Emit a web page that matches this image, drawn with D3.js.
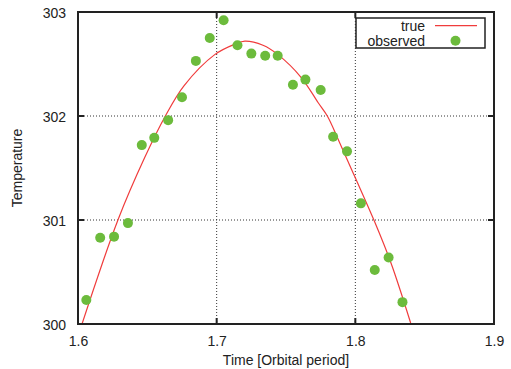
<!DOCTYPE html>
<html>
<head>
<meta charset="utf-8">
<script src="https://cdn.jsdelivr.net/npm/d3@7"></script>
<style>
  html, body { margin: 0; padding: 0; background: #fff; }
  text { font-family: "Liberation Sans", Arial, sans-serif; fill: #222; }
</style>
</head>
<body>
<div id="chart-container"></div>
<script>
// Observed points (time in orbital periods, temperature)
const obsTime = [1.606, 1.616, 1.626, 1.636, 1.646, 1.655, 1.665, 1.675, 1.685, 1.695, 1.705, 1.715,
                 1.725, 1.735, 1.744, 1.755, 1.764, 1.775, 1.784, 1.794, 1.804, 1.814, 1.824, 1.834];
const obsTemp = [300.23, 300.83, 300.84, 300.97, 301.72, 301.79, 301.96, 302.18, 302.53, 302.75, 302.92, 302.68,
                 302.60, 302.58, 302.58, 302.30, 302.35, 302.25, 301.80, 301.66, 301.16, 300.52, 300.64, 300.21];

// "true" curve
const trueTime = [1.6029, 1.6288, 1.6481, 1.6630, 1.6764, 1.6986, 1.7130, 1.7204,
                  1.7334, 1.7442, 1.7610, 1.7731, 1.7798, 1.7875, 1.7995, 1.8140, 1.8259, 1.8399];
const trueTemp = [300.00, 301.00, 301.60, 302.00, 302.29, 302.59, 302.69, 302.72,
                  302.68, 302.59, 302.37, 302.13, 302.00, 301.78, 301.42, 300.98, 300.58, 300.01];

const xTicks = [1.6, 1.7, 1.8, 1.9];
const yTicks = [300, 301, 302, 303];
const legendLabels = ["true", "observed"];

const W = 511, H = 369;
const plotL = 78, plotR = 494, plotT = 12, plotB = 324;

const svg = d3.select("#chart-container")
  .append("svg")
  .attr("width", W)
  .attr("height", H);

const xScale = d3.scaleLinear().domain([1.6, 1.9]).range([plotL, plotR]);
const yScale = d3.scaleLinear().domain([300, 303]).range([plotB, plotT]);

// Dotted grid lines
const grid = svg.append("g").attr("class", "grid");
grid.selectAll("line.gx")
  .data(xTicks.slice(1, -1))
  .enter().append("line")
  .attr("x1", d => xScale(d)).attr("x2", d => xScale(d))
  .attr("y1", plotT).attr("y2", plotB)
  .attr("stroke", "#333").attr("stroke-width", 1).attr("stroke-dasharray", "1,2");
grid.selectAll("line.gy")
  .data(yTicks.slice(1, -1))
  .enter().append("line")
  .attr("x1", plotL).attr("x2", plotR)
  .attr("y1", d => yScale(d)).attr("y2", d => yScale(d))
  .attr("stroke", "#333").attr("stroke-width", 1).attr("stroke-dasharray", "1,2");

// Clip region for the data
svg.append("clipPath").attr("id", "plot-clip")
  .append("rect")
  .attr("x", plotL).attr("y", plotT)
  .attr("width", plotR - plotL).attr("height", plotB - plotT);

// True curve
const trueData = trueTime.map((t, i) => ({ x: t, y: trueTemp[i] }));
const line = d3.line()
  .x(d => xScale(d.x))
  .y(d => yScale(d.y))
  .curve(d3.curveCatmullRom.alpha(0.5));

svg.append("path")
  .datum(trueData)
  .attr("clip-path", "url(#plot-clip)")
  .attr("d", line)
  .attr("fill", "none")
  .attr("stroke", "#f03c3c")
  .attr("stroke-width", 1.2);

// Observed points
const green = "#6cbb3c";
svg.append("g")
  .selectAll("circle")
  .data(obsTime.map((t, i) => ({ x: t, y: obsTemp[i] })))
  .enter().append("circle")
  .attr("cx", d => xScale(d.x))
  .attr("cy", d => yScale(d.y))
  .attr("r", 5)
  .attr("fill", green);

// Axes: labels outside, short ticks inside (mirrored on top/right)
const xAxis = d3.axisBottom(xScale).tickValues(xTicks).tickSize(0).tickPadding(12)
  .tickFormat(d3.format(".1f"));
const yAxis = d3.axisLeft(yScale).tickValues(yTicks).tickSize(0).tickPadding(12)
  .tickFormat(d3.format("d"));

const gx = svg.append("g").attr("transform", `translate(0,${plotB})`).call(xAxis);
const gy = svg.append("g").attr("transform", `translate(${plotL},0)`).call(yAxis);
[gx, gy].forEach(g => {
  g.select(".domain").remove();
  g.selectAll("text")
    .attr("font-size", "14px")
    .attr("font-family", "'Liberation Sans', Arial, sans-serif")
    .attr("fill", "#222");
});
gy.selectAll("text").attr("dy", "0.36em");

const ticks = svg.append("g").attr("stroke", "#222").attr("stroke-width", 2);
xTicks.slice(1, -1).forEach(t => {
  ticks.append("line").attr("x1", xScale(t)).attr("x2", xScale(t)).attr("y1", plotB).attr("y2", plotB - 6);
  ticks.append("line").attr("x1", xScale(t)).attr("x2", xScale(t)).attr("y1", plotT).attr("y2", plotT + 6);
});
yTicks.slice(1, -1).forEach(t => {
  ticks.append("line").attr("x1", plotL).attr("x2", plotL + 6).attr("y1", yScale(t)).attr("y2", yScale(t));
  ticks.append("line").attr("x1", plotR).attr("x2", plotR - 6).attr("y1", yScale(t)).attr("y2", yScale(t));
});

// Frame
svg.append("rect")
  .attr("x", plotL).attr("y", plotT)
  .attr("width", plotR - plotL).attr("height", plotB - plotT)
  .attr("fill", "none")
  .attr("stroke", "#222")
  .attr("stroke-width", 2);

// Axis labels
svg.append("text")
  .attr("x", (plotL + plotR) / 2)
  .attr("y", 365)
  .attr("text-anchor", "middle")
  .attr("font-size", "14px")
  .text("Time [Orbital period]");

svg.append("text")
  .attr("transform", `translate(22,${(plotT + plotB) / 2}) rotate(-90)`)
  .attr("text-anchor", "middle")
  .attr("font-size", "14px")
  .text("Temperature");

// Legend
const legend = svg.append("g");
legend.append("rect")
  .attr("x", 356).attr("y", 18)
  .attr("width", 129).attr("height", 30)
  .attr("fill", "#fff")
  .attr("stroke", "#222")
  .attr("stroke-width", 1.5);

legendLabels.forEach((label, i) => {
  legend.append("text")
    .attr("x", 425)
    .attr("y", 30.5 + i * 15)
    .attr("text-anchor", "end")
    .attr("font-size", "14px")
    .text(label);
});
legend.append("line")
  .attr("x1", 435).attr("x2", 477)
  .attr("y1", 25.7).attr("y2", 25.7)
  .attr("stroke", "#f03c3c").attr("stroke-width", 1.2);
legend.append("circle")
  .attr("cx", 455.5).attr("cy", 40.7)
  .attr("r", 5)
  .attr("fill", green);
</script>
</body>
</html>
